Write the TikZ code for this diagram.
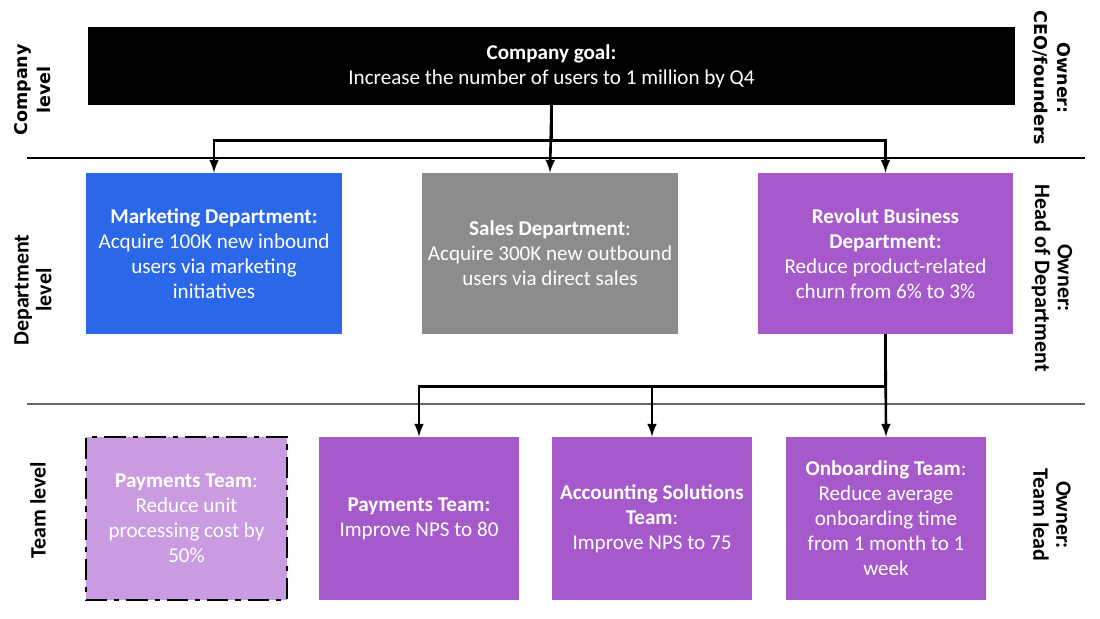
\documentclass[tikz,border=0pt]{standalone}
\usepackage{xcolor}
\usepackage{fontspec}
\setmainfont{Carlito}
\newfontfamily\widefont{DejaVu Sans}
\usepackage{tikz}
\usetikzlibrary{arrows, positioning}

\definecolor{mktblue}{HTML}{2B67E9}
\definecolor{salesgray}{HTML}{8C8C8C}
\definecolor{revpurple}{HTML}{A659CB}
\definecolor{lightpurple}{HTML}{C99BE1}

\tikzset{
  goalbox/.style={rectangle, fill=black, text=white, minimum width=18.54cm, minimum height=1.56cm, inner sep=0pt, align=center, font=\fontsize{12}{14.2}\selectfont},
  deptbox/.style={rectangle, text=white, minimum width=5.12cm, minimum height=3.22cm, inner sep=0pt, align=center, font=\fontsize{12}{14.2}\selectfont},
  teambox/.style={rectangle, fill=revpurple, text=white, minimum width=4.02cm, minimum height=3.26cm, inner sep=0pt, align=center, font=\fontsize{12}{14.2}\selectfont},
  levellabel/.style={align=center, inner sep=0pt, font=\fontsize{12.5}{13}\selectfont\bfseries},
  widelabel/.style={align=center, inner sep=0pt, font=\fontsize{10}{13}\selectfont\widefont\bfseries},
  link/.style={line width=1.5pt, -latex}
}

\begin{document}
\begin{tikzpicture}[x=0.02cm, y=-0.02cm]
    \useasboundingbox (0,0) rectangle (1100,619);

    % separators between the levels
    \draw[line width=0.6pt] (27,158) -- (1085,158);
    \draw[line width=0.6pt, black!60] (27,404) -- (1085,404);

    % company level
    \node[goalbox] (goal) at (551.5,66) {\textbf{Company goal:}\\Increase the number of users to 1 million by Q4};

    % department level
    \node[deptbox, fill=mktblue] (mkt) at (214,253.5) {\textbf{Marketing Department:}\\Acquire 100K new inbound\\users via marketing\\initiatives};
    \node[deptbox, fill=salesgray] (sales) at (550,253.5) {\textbf{Sales Department}:\\Acquire 300K new outbound\\users via direct sales};
    \node[deptbox, fill=revpurple] (rev) at (885.5,253.5) {\textbf{Revolut Business}\\\textbf{Department:}\\Reduce product-related\\churn from 6\% to 3\%};

    % team level
    \node[teambox, fill=lightpurple, draw=black, line width=1.6pt, dash pattern=on 12pt off 4pt on 3pt off 4pt] (payold) at (186.5,518.5) {\textbf{Payments Team}:\\Reduce unit\\processing cost by\\50\%};
    \node[teambox] (pay) at (419,518.5) {\textbf{Payments Team:}\\Improve NPS to 80};
    \node[teambox] (acc) at (652,518.5) {\textbf{Accounting Solutions}\\\textbf{Team}:\\Improve NPS to 75};
    \node[teambox] (onb) at (886,518.5) {\textbf{Onboarding Team}:\\Reduce average\\onboarding time\\from 1 month to 1\\week};

    % connectors
    \draw[link] (goal.south) -- ++(0,35) -| (mkt.north);
    \draw[link] (goal.south) -- ++(0,35) -| (rev.north);
    \draw[link] (goal.south) -- (sales.north);
    \draw[link] (rev.south) -- ++(0,52) -| (pay.north);
    \draw[link] (rev.south) -- ++(0,52) -| (acc.north);
    \draw[link] (rev.south) -- (onb.north);

    % level names on the left
    \node[widelabel, rotate=90] (lvcompany) at (33,90) {Company\\level};
    \node[levellabel, rotate=90] (lvdept) at (33,290) {Department\\level};
    \node[levellabel, rotate=90] (lvteam) at (38,510) {Team level};

    % owners on the right
    \node[widelabel, rotate=-90] (owceo) at (1052,78) {Owner:\\CEO/founders};
    \node[levellabel, rotate=-90] (owhead) at (1052,278) {Owner:\\Head of Department};
    \node[levellabel, rotate=-90] (owlead) at (1052,515) {Owner:\\Team lead};
\end{tikzpicture}
\end{document}
